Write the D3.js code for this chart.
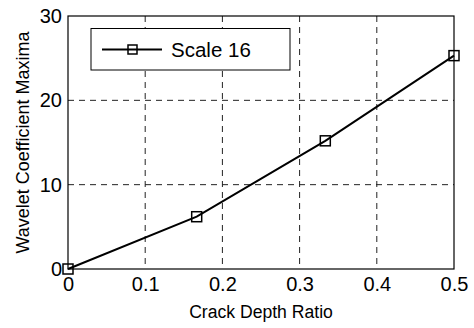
<!DOCTYPE html>
<html><head><meta charset="utf-8">
<script src="https://cdn.jsdelivr.net/npm/d3@7"></script>
<style>body{margin:0;background:#fff}svg{display:block;font-family:"Liberation Sans",Arial,sans-serif}</style>
</head><body><svg id="c" width="474" height="328"></svg>
<script>
const crackRatio = [0, 0.1667, 0.3333, 0.5];
const scale16 = [0, 6.2, 15.2, 25.3];
const xTicks = [0, 0.1, 0.2, 0.3, 0.4, 0.5];
const yTicks = [0, 10, 20, 30];
const seriesName = "Scale 16";

const svg = d3.select("#c");
const L = 68, R = 454, T = 16, B = 269;
const x = d3.scaleLinear().domain([0, 0.5]).range([L, R]);
const y = d3.scaleLinear().domain([0, 30]).range([B, T]);

// grid
const g = svg.append("g");
g.selectAll(".gx").data(xTicks.slice(1, -1)).enter().append("line")
  .attr("x1", d => x(d)).attr("x2", d => x(d)).attr("y1", T).attr("y2", B)
  .attr("stroke", "#222").attr("stroke-width", 1).attr("stroke-dasharray", "6,5");
g.selectAll(".gy").data(yTicks.slice(1, -1)).enter().append("line")
  .attr("y1", d => y(d)).attr("y2", d => y(d)).attr("x1", L).attr("x2", R)
  .attr("stroke", "#222").attr("stroke-width", 1).attr("stroke-dasharray", "6,5");

// box
svg.append("rect").attr("x", L).attr("y", T).attr("width", R - L).attr("height", B - T)
  .attr("fill", "none").attr("stroke", "#000").attr("stroke-width", 1.2);

// axes
const xa = svg.append("g").attr("transform", `translate(0,${B})`)
  .call(d3.axisBottom(x).tickValues(xTicks).tickSize(0).tickPadding(8).tickFormat(d => d === 0 ? "0" : d3.format(".1f")(d)));
xa.select(".domain").remove();
xa.selectAll("text").attr("font-size", 20).attr("fill", "#000").attr("font-family", "Liberation Sans, Arial, sans-serif");
const ya = svg.append("g").attr("transform", `translate(${L},0)`)
  .call(d3.axisLeft(y).tickValues(yTicks).tickSize(0).tickPadding(6).tickFormat(d3.format("d")));
ya.select(".domain").remove();
ya.selectAll("text").attr("font-size", 20).attr("fill", "#000").attr("font-family", "Liberation Sans, Arial, sans-serif");

// titles
svg.append("text").attr("x", (L + R) / 2).attr("y", 318).attr("text-anchor", "middle")
  .attr("font-size", 17.6).text("Crack Depth Ratio");
svg.append("text").attr("transform", `translate(28.5,${(T + B) / 2}) rotate(-90)`).attr("text-anchor", "middle")
  .attr("font-size", 18).text("Wavelet Coefficient Maxima");

// line
const line = d3.line().x((d, i) => x(crackRatio[i])).y(d => y(d));
svg.append("path").datum(scale16).attr("d", line).attr("fill", "none").attr("stroke", "#000").attr("stroke-width", 2);
svg.selectAll(".m").data(scale16).enter().append("rect")
  .attr("x", (d, i) => x(crackRatio[i]) - 5).attr("y", d => y(d) - 5).attr("width", 10).attr("height", 10)
  .attr("fill", "none").attr("stroke", "#000").attr("stroke-width", 1.5);

// legend
const lg = svg.append("g");
lg.append("rect").attr("x", 91).attr("y", 28.5).attr("width", 199).attr("height", 41.5)
  .attr("fill", "#fff").attr("stroke", "#000").attr("stroke-width", 1);
lg.append("line").attr("x1", 102).attr("x2", 162).attr("y1", 49.5).attr("y2", 49.5).attr("stroke", "#000").attr("stroke-width", 2);
lg.append("rect").attr("x", 128).attr("y", 45).attr("width", 9).attr("height", 9)
  .attr("fill", "none").attr("stroke", "#000").attr("stroke-width", 1.5);
lg.append("text").attr("x", 171).attr("y", 56.5).attr("font-size", 20.5).text(seriesName);
</script></body></html>
